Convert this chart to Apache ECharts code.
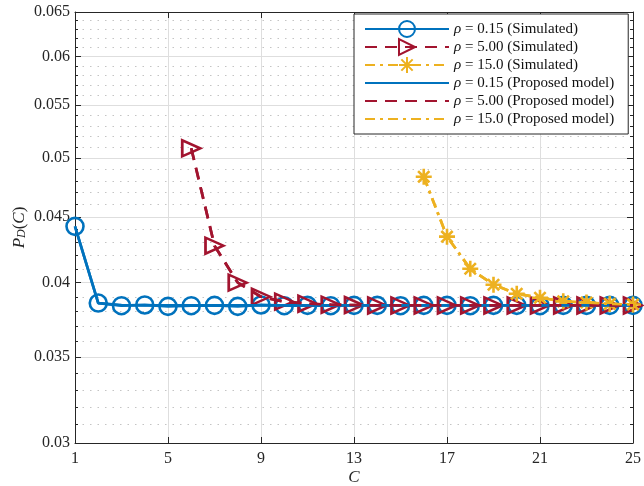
<!DOCTYPE html>
<html><head><meta charset="utf-8">
<script src="https://cdn.jsdelivr.net/npm/echarts@6/dist/echarts.min.js"></script>
<style>html,body{margin:0;padding:0;background:#fff}#c{width:644px;height:486px}</style>
</head><body><div id="c"></div>
<script>
// ---- data ----
const xTicks = [1, 5, 9, 13, 17, 21, 25];
const yMajorTicks = [0.03, 0.035, 0.04, 0.045, 0.05, 0.055, 0.06, 0.065];
const yMinorTicks = [0.031,0.032,0.033,0.034,0.036,0.037,0.038,0.039,0.041,0.042,0.043,0.044,0.046,0.047,0.048,0.049,0.051,0.052,0.053,0.054,0.056,0.057,0.058,0.059,0.061,0.062,0.063,0.064];

const cLow = [1,2,3,4,5,6,7,8,9,10,11,12,13,14,15,16,17,18,19,20,21,22,23,24,25];
const simLow = [0.04425,0.03856,0.03838,0.03843,0.03833,0.03838,0.03840,0.03833,0.03843,0.03838,0.03840,0.03838,0.03840,0.03840,0.03838,0.03840,0.03840,0.03838,0.03840,0.03840,0.03838,0.03840,0.03840,0.03840,0.03840];
const modelLow = [0.04425,0.03856,0.03842,0.03840,0.03840,0.03840,0.03840,0.03840,0.03840,0.03840,0.03840,0.03840,0.03840,0.03840,0.03840,0.03840,0.03840,0.03840,0.03840,0.03840,0.03840,0.03840,0.03840,0.03840,0.03840];

const cMid = [6,7,8,9,10,11,12,13,14,15,16,17,18,19,20,21,22,23,24,25];
const simMid = [0.0509,0.04274,0.0400,0.0390,0.03866,0.03852,0.03845,0.03842,0.03840,0.03840,0.03840,0.03840,0.03840,0.03840,0.03840,0.03840,0.03840,0.03840,0.03840,0.03840];
const modelMid = [0.0509,0.04274,0.0400,0.0390,0.03866,0.03852,0.03845,0.03842,0.03840,0.03840,0.03840,0.03840,0.03840,0.03840,0.03840,0.03840,0.03840,0.03840,0.03840,0.03840];

const cHigh = [16,17,18,19,20,21,22,23,24,25];
const simHigh = [0.04837,0.04344,0.04101,0.03985,0.03921,0.03893,0.03868,0.03860,0.03850,0.03846];
const modelHigh = [0.04837,0.04344,0.04101,0.03985,0.03921,0.03893,0.03868,0.03860,0.03850,0.03846];

const names = ['ρ = 0.15 (Simulated)','ρ = 5.00 (Simulated)','ρ = 15.0 (Simulated)',
               'ρ = 0.15 (Proposed model)','ρ = 5.00 (Proposed model)','ρ = 15.0 (Proposed model)'];

const BLUE = '#0072BD', RED = '#A2142F', YEL = '#EDB120';
const AX = '#262626';
const FONT = 'Liberation Serif';
const STAR = 'path://M0,-10L0,10M-10,0L10,0M-7.07,-7.07L7.07,7.07M-7.07,7.07L7.07,-7.07';
const CLEAR = 'rgba(0,0,0,0)';

function pairs(xs, ys){ return xs.map((x,i)=>[x, ys[i]]); }

const chart = echarts.init(document.getElementById('c'), null, {renderer:'canvas'});

const baseX = {type:'value', min:1, max:25, gridIndex:0};
const baseY = {type:'log', logBase:10, min:0.03, max:0.065, gridIndex:0};

chart.setOption({
  animation:false,
  backgroundColor:'#fff',
  textStyle:{fontFamily:FONT},
  grid:{left:75, right:11, top:12, bottom:43, containLabel:false, outerBoundsMode:'none'},
  xAxis:[
    Object.assign({}, baseX, {
      position:'bottom',
      name:'C', nameLocation:'middle', nameGap:26, nameMoveOverlap:false,
      nameTextStyle:{fontFamily:FONT, fontSize:17, fontStyle:'italic', color:AX},
      axisLine:{show:true, onZero:false, lineStyle:{color:AX, width:1}},
      axisTick:{show:true, inside:true, length:6, customValues:xTicks, lineStyle:{color:AX}},
      axisLabel:{show:true, customValues:xTicks, color:AX, fontFamily:FONT, fontSize:16, margin:8},
      splitLine:{show:true, lineStyle:{color:'#dedede', width:1}}
    }),
    Object.assign({}, baseX, {
      position:'top',
      axisLine:{show:true, onZero:false, lineStyle:{color:AX, width:1}},
      axisTick:{show:true, inside:true, length:6, customValues:xTicks, lineStyle:{color:AX}},
      axisLabel:{show:false},
      splitLine:{show:false}
    })
  ],
  yAxis:[
    Object.assign({}, baseY, {
      position:'left',
      name:'{i|P}{s|D}{n|(}{i|C}{n|)}', nameLocation:'middle', nameGap:47, nameRotate:90, nameMoveOverlap:false,
      nameTextStyle:{color:AX, rich:{
        i:{fontFamily:FONT, fontSize:17, fontStyle:'italic', color:AX},
        s:{fontFamily:FONT, fontSize:12, fontStyle:'italic', color:AX, verticalAlign:'bottom'},
        n:{fontFamily:FONT, fontSize:17, color:AX}
      }},
      axisLine:{show:true, onZero:false, lineStyle:{color:AX, width:1}},
      axisTick:{show:true, inside:true, length:6, customValues:yMajorTicks, lineStyle:{color:AX}},
      axisLabel:{show:true, customValues:yMajorTicks, color:AX, fontFamily:FONT, fontSize:16, margin:5,
        formatter:v=>String(+v.toFixed(3))},
      splitLine:{show:true, lineStyle:{color:'#dedede', width:1}}
    }),
    Object.assign({}, baseY, {
      position:'left',
      axisLine:{show:false},
      axisTick:{show:true, inside:true, length:3, customValues:yMinorTicks, lineStyle:{color:AX}},
      axisLabel:{show:false, customValues:yMinorTicks},
      splitLine:{show:true, lineStyle:{color:'#c4c4c4', width:1, type:[1.5,6]}}
    }),
    Object.assign({}, baseY, {
      position:'right',
      axisLine:{show:true, onZero:false, lineStyle:{color:AX, width:1}},
      axisTick:{show:true, inside:true, length:6, customValues:yMajorTicks, lineStyle:{color:AX}},
      axisLabel:{show:false, customValues:yMajorTicks},
      splitLine:{show:false}
    }),
    Object.assign({}, baseY, {
      position:'right',
      axisLine:{show:false},
      axisTick:{show:true, inside:true, length:3, customValues:yMinorTicks, lineStyle:{color:AX}},
      axisLabel:{show:false, customValues:yMinorTicks},
      splitLine:{show:false}
    })
  ],
  legend:{
    orient:'vertical', left:354, top:14,
    padding:[6,14,6,10],
    backgroundColor:'#fff', borderColor:AX, borderWidth:1, borderRadius:0,
    itemWidth:84, itemHeight:20, itemGap:0,
    data:[names[0], names[1], names[2],
          {name:names[3], itemStyle:{opacity:0}},
          {name:names[4], itemStyle:{opacity:0}},
          {name:names[5], itemStyle:{opacity:0}}],
    formatter:n=>n.replace('ρ','{i|ρ}'),
    textStyle:{fontFamily:FONT, fontSize:15, lineHeight:18, color:'#111',
      rich:{i:{fontFamily:FONT, fontSize:15, lineHeight:18, fontStyle:'italic', color:'#111'}}}
  },
  series:[
    {name:names[0], type:'line', data:pairs(cLow, simLow), symbol:'circle', symbolSize:17,
     itemStyle:{color:CLEAR, borderColor:BLUE, borderWidth:2.6},
     lineStyle:{color:BLUE, width:2.7}, z:2},
    {name:names[1], type:'line', data:pairs(cMid, simMid), symbol:'triangle', symbolSize:[16,18], symbolRotate:-90,
     itemStyle:{color:CLEAR, borderColor:RED, borderWidth:2.6},
     lineStyle:{color:RED, width:2.7, type:[12,8]}, z:3},
    {name:names[2], type:'line', data:pairs(cHigh, simHigh), symbol:STAR, symbolSize:16,
     itemStyle:{color:CLEAR, borderColor:YEL, borderWidth:2.6},
     lineStyle:{color:YEL, width:2.7, type:[10,5,3,5]}, z:4},
    {name:names[3], type:'line', data:pairs(cLow, modelLow), symbol:'none', showSymbol:false,
     itemStyle:{color:CLEAR, borderColor:CLEAR, borderWidth:0}, lineStyle:{color:BLUE, width:2.7}, z:5},
    {name:names[4], type:'line', data:pairs(cMid, modelMid), symbol:'none', showSymbol:false,
     itemStyle:{color:CLEAR, borderColor:CLEAR, borderWidth:0}, lineStyle:{color:RED, width:2.7, type:[12,8]}, z:6},
    {name:names[5], type:'line', data:pairs(cHigh, modelHigh), symbol:'none', showSymbol:false,
     itemStyle:{color:CLEAR, borderColor:CLEAR, borderWidth:0}, lineStyle:{color:YEL, width:2.7, type:[10,5,3,5]}, z:7}
  ]
});
</script>
</body></html>
